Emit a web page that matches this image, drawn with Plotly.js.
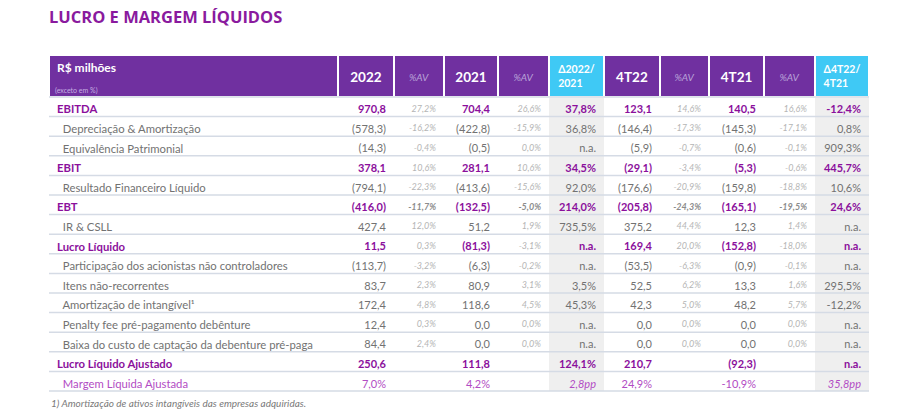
<!DOCTYPE html>
<html><head><meta charset="utf-8">
<script src="https://cdn.plot.ly/plotly-3.0.1.min.js"></script>
<style>html,body{margin:0;padding:0;background:#fff}#chart{width:911px;height:419px}</style>
</head><body><div id="chart"></div>
<script>
const headers = ["R$ milhões", "2022", "%AV", "2021", "%AV", "Δ2022/<br>2021", "4T22", "%AV", "4T21", "%AV", "Δ4T22/<br>4T21"];
const headerNote = "(exceto em %)";
const labels = ["EBITDA","Depreciação & Amortização","Equivalência Patrimonial","EBIT","Resultado Financeiro Líquido","EBT","IR & CSLL","Lucro Líquido","Participação dos acionistas não controladores","Itens não-recorrentes","Amortização de intangível¹","Penalty fee pré-pagamento debênture","Baixa do custo de captação da debenture pré-paga","Lucro Líquido Ajustado","Margem Líquida Ajustada"];
const rowKind = ["total","item","item","total","item","total","item","total","item","item","item","item","item","total","margin"];
const v2022 = ["970,8","(578,3)","(14,3)","378,1","(794,1)","(416,0)","427,4","11,5","(113,7)","83,7","172,4","12,4","84,4","250,6","7,0%"];
const av2022 = ["27,2%","-16,2%","-0,4%","10,6%","-22,3%","-11,7%","12,0%","0,3%","-3,2%","2,3%","4,8%","0,3%","2,4%","",""];
const v2021 = ["704,4","(422,8)","(0,5)","281,1","(413,6)","(132,5)","51,2","(81,3)","(6,3)","80,9","118,6","0,0","0,0","111,8","4,2%"];
const av2021 = ["26,6%","-15,9%","0,0%","10,6%","-15,6%","-5,0%","1,9%","-3,1%","-0,2%","3,1%","4,5%","0,0%","0,0%","",""];
const d2022 = ["37,8%","36,8%","n.a.","34,5%","92,0%","214,0%","735,5%","n.a.","n.a.","3,5%","45,3%","n.a.","n.a.","124,1%","2,8pp"];
const v4t22 = ["123,1","(146,4)","(5,9)","(29,1)","(176,6)","(205,8)","375,2","169,4","(53,5)","52,5","42,3","0,0","0,0","210,7","24,9%"];
const av4t22 = ["14,6%","-17,3%","-0,7%","-3,4%","-20,9%","-24,3%","44,4%","20,0%","-6,3%","6,2%","5,0%","0,0%","0,0%","",""];
const v4t21 = ["140,5","(145,3)","(0,6)","(5,3)","(159,8)","(165,1)","12,3","(152,8)","(0,9)","13,3","48,2","0,0","0,0","(92,3)","-10,9%"];
const av4t21 = ["16,6%","-17,1%","-0,1%","-0,6%","-18,8%","-19,5%","1,4%","-18,0%","-0,1%","1,6%","5,7%","0,0%","0,0%","",""];
const d4t22 = ["-12,4%","0,8%","909,3%","445,7%","10,6%","24,6%","n.a.","n.a.","n.a.","295,5%","-12,2%","n.a.","n.a.","n.a.","35,8pp"];
const footnote = "1) Amortização de ativos intangíveis das empresas adquiridas.";
const title = "LUCRO E MARGEM LÍQUIDOS";

// ---- styling ----
const W = 911, H = 419;
const PURPLE = '#7030a0', CYAN = '#3fc9f5', TXTP = '#8b0f9c', GRAY = '#727272', AVG = '#b5b5b5', PINK = '#b24cc4', DFILL = '#efefef';
const tblLeft = 49, tblRight = 869, tblTop = 55, headH = 42, rowH = 19.6;
const colW = [289, 56, 50, 54, 51, 55, 56, 49, 55, 51, 54];
const columns = [labels, v2022, av2022, v2021, av2021, d2022, v4t22, av4t22, v4t21, av4t21, d4t22];
const colKind = ['label','value','av','value','av','delta','value','av','value','av','delta'];
const nb = s => s.replace(/ /g, '\u00a0');

// plain text only (no markup) so rows keep their declared height; '&' goes to the suffix
const vals = [], sufs = [], fColor = [], fSize = [], fWeight = [], fStyle = [], fills = [], aligns = [];
columns.forEach((col, c) => {
  const k = colKind[c];
  const t = [], sf = [], fc = [], fs = [], fw = [], fst = [], ff = [];
  col.forEach((v, r) => {
    const rk = rowKind[r];
    let s = nb(v), color = GRAY, size = 11, weight = 'normal', style = 'normal';
    if (k === 'av') {
      size = 9; color = AVG; style = 'italic';
      if (labels[r] === 'EBT') { weight = 'bold'; color = '#8c8c8c'; }
    } else {
      if (rk === 'total') { weight = 'bold'; color = TXTP; }
      else if (rk === 'margin') { color = PINK; if (k === 'delta') style = 'italic'; }
      if (k === 'label') { size = 11.3; if (rk !== 'total') s = '\u00a0\u00a0' + s; }
    }
    const amp = s.indexOf('&');
    if (amp >= 0) { t.push(s.slice(0, amp)); sf.push(s.slice(amp)); } else { t.push(s); sf.push(''); }
    fc.push(color); fs.push(size); fw.push(weight); fst.push(style); ff.push(k === 'delta' ? DFILL : '#ffffff');
  });
  vals.push(t); sufs.push(sf); fColor.push(fc); fSize.push(fs); fWeight.push(fw); fStyle.push(fst); fills.push(ff);
  aligns.push(k === 'label' ? 'left' : 'right');
});

// single-line headers get an invisible spacer line above so they sit centred in the header
const headText = headers.map((h, i) => {
  if (i === 0 || h.indexOf('<br>') >= 0) return h;
  const w = colKind[i] === 'av' ? 'font-style:italic;font-size:10px' : 'font-weight:bold;font-size:13.5px';
  return '\u00a0<br><span style="' + w + '">' + h + '</span>';
});
const headColor = colKind.map(k => k === 'av' ? '#b9a3d8' : '#ffffff');
const headSize = colKind.map((k, i) => i === 0 ? 12 : k === 'delta' ? 10.5 : k === 'av' ? 7.8 : 8.45);
const headWeight = colKind.map(k => k === 'av' ? 'normal' : 'bold');
const headFill = colKind.map(k => k === 'delta' ? CYAN : PURPLE);
const headAlign = colKind.map((k, i) => i === 0 ? 'left' : 'center');

const trace = {
  type: 'table',
  domain: { x: [tblLeft / W, tblRight / W], y: [0.02, 1 - tblTop / H] },
  columnwidth: colW,
  header: {
    values: headText, height: headH, align: headAlign,
    fill: { color: headFill }, line: { color: '#ffffff', width: 2 },
    font: { family: 'Lato, sans-serif', color: headColor, size: headSize, weight: headWeight }
  },
  cells: {
    values: vals, suffix: sufs, height: rowH, align: aligns,
    fill: { color: fills }, line: { color: '#ffffff', width: 0 },
    font: { family: 'Lato, sans-serif', color: fColor, size: fSize, weight: fWeight, style: fStyle }
  }
};

const shapes = [];
for (let i = 0; i <= labels.length; i++) {
  const py = tblTop + headH + i * rowH;
  shapes.push({ type: 'line', xref: 'paper', yref: 'paper', x0: tblLeft / W, x1: tblRight / W,
    y0: 1 - py / H, y1: 1 - py / H, line: { color: '#d5dbe5', width: 1.5 } });
}

const layout = {
  width: W, height: H, margin: { l: 0, r: 0, t: 0, b: 0 },
  paper_bgcolor: '#ffffff', plot_bgcolor: '#ffffff',
  title: { text: '<b>' + title + '</b>', x: tblLeft / W, xanchor: 'left', xref: 'paper', y: 1 - 17 / H, yanchor: 'middle',
    font: { family: 'Open Sans, sans-serif', size: 16.5, color: '#8a1a9e' } },
  shapes: shapes,
  annotations: [
    { text: headerNote, xref: 'paper', yref: 'paper', x: (tblLeft + 4) / W, y: 1 - 91 / H,
      xanchor: 'left', yanchor: 'middle', showarrow: false, font: { family: 'Lato, sans-serif', size: 7, color: '#c4aee0' } },
    { text: '<i>' + footnote + '</i>', xref: 'paper', yref: 'paper', x: tblLeft / W, y: 1 - 403 / H,
      xanchor: 'left', yanchor: 'middle', showarrow: false, font: { family: 'Lato, sans-serif', size: 10, color: '#7a7a7a' } }]
};

Plotly.newPlot('chart', [trace], layout, { displayModeBar: false, staticPlot: true });
</script>
</body></html>
